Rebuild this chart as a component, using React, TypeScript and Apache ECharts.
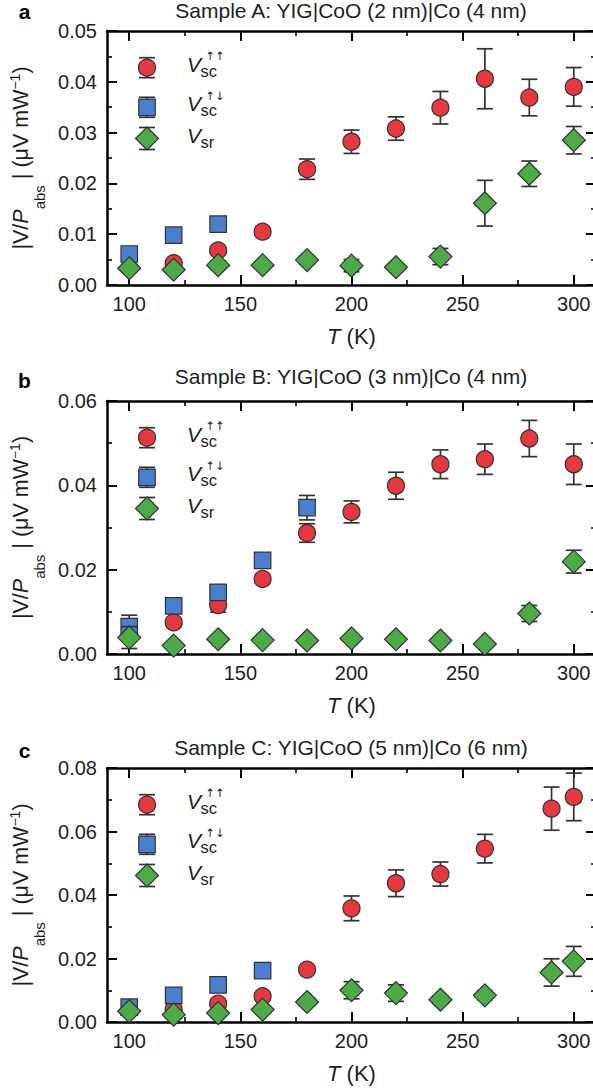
import React, { useEffect, useRef } from "react";
import * as echarts from "echarts";

const FONT = '"Liberation Sans", Arial, Helvetica, sans-serif';
const ARROW_FONT = '"DejaVu Sans", "Liberation Sans", sans-serif';
const INK = "#1e1e1e";
const EDGE = "#333333";
const RED = "#e8373f";
const BLUE = "#4a7fcf";
const GREEN = "#4caa47";

// ---- temperatures (K) ----
const tempsAB = [100, 120, 140, 160, 180, 200, 220, 240, 260, 280, 300];
const tempsC = [100, 120, 140, 160, 180, 200, 220, 240, 260, 290, 300];

// ---- tick labels ----
const xTickLabels = [100, 150, 200, 250, 300];
const xMinorTicks = [125, 175, 225, 275];

// ---- Sample A ----
const upupA = [null, 0.0043, 0.0068, 0.0105, 0.0228, 0.0282, 0.0308, 0.0349, 0.0406, 0.0369, 0.039];
const upupErrA = [null, 0.0005, 0.0006, 0.0006, 0.002, 0.0023, 0.0023, 0.0032, 0.0059, 0.0036, 0.0038];
const updnA = [0.0061, 0.0098, 0.012, null, null, null, null, null, null, null, null];
const updnErrA = [0.0005, 0.0005, 0.0006, null, null, null, null, null, null, null, null];
const srA = [0.0033, 0.003, 0.0039, 0.0039, 0.0049, 0.0038, 0.0035, 0.0056, 0.0161, 0.0219, 0.0285];
const srErrA = [0.0008, 0.0005, 0.0008, 0.0006, 0.0008, 0.0012, 0.0006, 0.0016, 0.0045, 0.0025, 0.0027];

// ---- Sample B ----
const upupB = [null, 0.0075, 0.0116, 0.0178, 0.0287, 0.0337, 0.0399, 0.045, 0.0462, 0.0511, 0.045];
const upupErrB = [null, 0.0006, 0.0017, 0.0008, 0.0022, 0.0026, 0.0032, 0.0034, 0.0036, 0.0043, 0.0048];
const updnB = [0.0065, 0.0114, 0.0146, 0.0222, 0.0347, null, null, null, null, null, null];
const updnErrB = [0.0027, 0.0008, 0.001, 0.001, 0.0029, null, null, null, null, null, null];
const srB = [0.0039, 0.002, 0.0035, 0.0033, 0.0032, 0.0037, 0.0035, 0.0032, 0.0024, 0.0096, 0.0219];
const srErrB = [0.0026, 0.0006, 0.0008, 0.0006, 0.0006, 0.0008, 0.0006, 0.0006, 0.0006, 0.0019, 0.0027];

// ---- Sample C ----
const upupC = [null, 0.004, 0.0058, 0.0081, 0.0165, 0.0358, 0.0437, 0.0466, 0.0546, 0.0672, 0.0709];
const upupErrC = [null, 0.0008, 0.001, 0.001, 0.001, 0.0039, 0.0042, 0.0038, 0.0045, 0.0068, 0.0075];
const updnC = [0.0047, 0.0084, 0.0117, 0.0162, null, null, null, null, null, null, null];
const updnErrC = [0.0008, 0.001, 0.001, 0.001, null, null, null, null, null, null, null];
const srC = [0.0034, 0.0023, 0.0028, 0.0039, 0.0063, 0.01, 0.0091, 0.007, 0.0084, 0.0156, 0.0191];
const srErrC = [0.001, 0.001, 0.001, 0.001, 0.0012, 0.0027, 0.0026, 0.0012, 0.0014, 0.0043, 0.0047];

const panels = [
  {
    letter: "a", title: "Sample A: YIG|CoO (2 nm)|Co (4 nm)",
    top: 31, height: 254, titleY: 10, letterY: 11.5,
    yMax: 0.05, yStep: 0.01, temps: tempsAB,
    upup: upupA, upupErr: upupErrA, updn: updnA, updnErr: updnErrA, sr: srA, srErr: srErrA,
  },
  {
    letter: "b", title: "Sample B: YIG|CoO (3 nm)|Co (4 nm)",
    top: 401, height: 253, titleY: 376.7, letterY: 380,
    yMax: 0.06, yStep: 0.02, temps: tempsAB,
    upup: upupB, upupErr: upupErrB, updn: updnB, updnErr: updnErrB, sr: srB, srErr: srErrB,
  },
  {
    letter: "c", title: "Sample C: YIG|CoO (5 nm)|Co (6 nm)",
    top: 768, height: 254, titleY: 747, letterY: 750,
    yMax: 0.08, yStep: 0.02, temps: tempsC,
    upup: upupC, upupErr: upupErrC, updn: updnC, updnErr: updnErrC, sr: srC, srErr: srErrC,
  },
];

function triples(xs: number[], ys: (number | null)[], es: (number | null)[]) {
  const out: number[][] = [];
  xs.forEach((x, i) => {
    if (ys[i] != null) out.push([x, ys[i] as number, (es[i] ?? 0) as number]);
  });
  return out;
}

const CAP = 8;
const ERR_STYLE = { stroke: EDGE, lineWidth: 1.7 };

function errRenderItem(params: any, api: any) {
  const x = api.value(0);
  const y = api.value(1);
  const e = api.value(2);
  const t = api.coord([x, y + e]);
  const b = api.coord([x, y - e]);
  return {
    type: "group",
    children: [
      { type: "line", shape: { x1: t[0], y1: t[1], x2: b[0], y2: b[1] }, style: ERR_STYLE },
      { type: "line", shape: { x1: t[0] - CAP, y1: t[1], x2: t[0] + CAP, y2: t[1] }, style: ERR_STYLE },
      { type: "line", shape: { x1: b[0] - CAP, y1: b[1], x2: b[0] + CAP, y2: b[1] }, style: ERR_STYLE },
    ],
  };
}

const richX = {
  n: { fontSize: 22, fontFamily: FONT, color: INK, verticalAlign: "middle" },
  i: { fontSize: 22, fontFamily: FONT, color: INK, fontStyle: "italic", verticalAlign: "middle" },
};

const richY = {
  n: { fontSize: 21.5, fontFamily: FONT, color: INK, verticalAlign: "middle" },
  i: { fontSize: 21.5, fontFamily: FONT, color: INK, fontStyle: "italic", verticalAlign: "middle" },
  sub: { fontSize: 15, fontFamily: FONT, color: INK, verticalAlign: "middle", padding: [38, 0, 0, 0] },
  sup: { fontSize: 14, fontFamily: FONT, color: INK, verticalAlign: "middle", padding: [0, 0, 12, 0] },
};

function buildOption() {
  const grid: any[] = [];
  const xAxis: any[] = [];
  const yAxis: any[] = [];
  const series: any[] = [];
  const graphic: any[] = [];

  const spine = { color: "#000", width: 2.5 };
  const majorTickStyle = { color: "#000", width: 2 };
  const minorTickStyle = { color: "#000", width: 1.6 };
  const tickFont = 20;

  panels.forEach((p, i) => {
    grid.push({ left: 107, right: -3, top: p.top, height: p.height, containLabel: false, outerBoundsMode: "none" });

    const baseX = { type: "value", gridIndex: i, min: 90, max: 310, splitLine: { show: false } };
    xAxis.push({
      ...baseX, position: "bottom",
      axisLine: { show: true, onZero: false, lineStyle: spine },
      axisTick: { show: true, inside: true, length: 10, customValues: xTickLabels, lineStyle: majorTickStyle },
      axisLabel: { show: true, customValues: xTickLabels, margin: 9, fontSize: tickFont, color: INK, fontFamily: FONT },
      name: "{i|T}{n| (K)}", nameLocation: "middle", nameGap: 40,
      nameTextStyle: { rich: richX },
    });
    xAxis.push({
      ...baseX, position: "bottom",
      axisLine: { show: false, onZero: false },
      axisTick: { show: true, inside: true, length: 5, customValues: xMinorTicks, lineStyle: minorTickStyle },
      axisLabel: { show: false },
    });
    xAxis.push({
      ...baseX, position: "top",
      axisLine: { show: true, onZero: false, lineStyle: spine },
      axisTick: { show: true, inside: true, length: 10, customValues: xTickLabels, lineStyle: majorTickStyle },
      axisLabel: { show: false },
    });
    xAxis.push({
      ...baseX, position: "top",
      axisLine: { show: false, onZero: false },
      axisTick: { show: true, inside: true, length: 5, customValues: xMinorTicks, lineStyle: minorTickStyle },
      axisLabel: { show: false },
    });

    const baseY = {
      type: "value", gridIndex: i, min: 0, max: p.yMax, interval: p.yStep,
      splitLine: { show: false }, minorSplitLine: { show: false },
    };
    yAxis.push({
      ...baseY, position: "left",
      axisLine: { show: true, onZero: false, lineStyle: spine },
      axisTick: { show: true, inside: true, length: 10, lineStyle: majorTickStyle },
      minorTick: { show: true, splitNumber: 2, length: 5, lineStyle: minorTickStyle },
      axisLabel: {
        show: true, margin: 10, fontSize: tickFont, color: INK, fontFamily: FONT,
        formatter: (v: number) => v.toFixed(2),
      },
      name: "{n||V/}{i|P}{sub|abs}{n| | (μV mW}{sup|−1}{n|)}",
      nameLocation: "middle", nameGap: 52, nameRotate: 90,
      nameTextStyle: { rich: richY },
    });
    yAxis.push({
      ...baseY, position: "right",
      axisLine: { show: true, onZero: false, lineStyle: spine },
      axisTick: { show: true, inside: true, length: 10, lineStyle: majorTickStyle },
      minorTick: { show: true, splitNumber: 2, length: 5, lineStyle: minorTickStyle },
      axisLabel: { show: false },
    });

    const xi = 4 * i;
    const yi = 2 * i;
    const sets = [
      { data: triples(p.temps, p.upup, p.upupErr), symbol: "circle", size: 17, color: RED },
      { data: triples(p.temps, p.updn, p.updnErr), symbol: "rect", size: 16.5, color: BLUE },
      { data: triples(p.temps, p.sr, p.srErr), symbol: "diamond", size: 23, color: GREEN },
    ];
    sets.forEach((s, k) => {
      series.push({
        type: "custom", xAxisIndex: xi, yAxisIndex: yi, silent: true, z: 2 + 2 * k,
        encode: { x: 0, y: 1 }, data: s.data, renderItem: errRenderItem,
      });
      series.push({
        type: "scatter", xAxisIndex: xi, yAxisIndex: yi, silent: true, z: 3 + 2 * k,
        symbol: s.symbol, symbolSize: s.size,
        data: s.data.map((d) => [d[0], d[1]]),
        itemStyle: { color: s.color, borderColor: EDGE, borderWidth: 1.2, opacity: 1 },
      });
    });

    // title and panel letter
    graphic.push({
      type: "text", x: 351, y: p.titleY, silent: true,
      style: { text: p.title, fontSize: 21, fontFamily: FONT, fill: INK, align: "center", verticalAlign: "middle" },
    });
    graphic.push({
      type: "text", x: 24.5, y: p.letterY, silent: true,
      style: { text: p.letter, fontSize: 21, fontWeight: "bold", fontFamily: FONT, fill: "#000", align: "center", verticalAlign: "middle" },
    });

    // legend
    const lx = 147;
    const rows = [p.top + 36.7, p.top + 76.3, p.top + 107.5];
    const errH = [10, 10, 11];
    rows.forEach((ry, k) => {
      const eh = errH[k];
      graphic.push({ type: "line", silent: true, shape: { x1: lx, y1: ry - eh, x2: lx, y2: ry + eh }, style: ERR_STYLE, z: 10 });
      graphic.push({ type: "line", silent: true, shape: { x1: lx - CAP, y1: ry - eh, x2: lx + CAP, y2: ry - eh }, style: ERR_STYLE, z: 10 });
      graphic.push({ type: "line", silent: true, shape: { x1: lx - CAP, y1: ry + eh, x2: lx + CAP, y2: ry + eh }, style: ERR_STYLE, z: 10 });
      const symStyle = { fill: sets[k].color, stroke: EDGE, lineWidth: 1.2 };
      if (k === 0) {
        graphic.push({ type: "circle", silent: true, shape: { cx: lx, cy: ry, r: 8.5 }, style: symStyle, z: 11 });
      } else if (k === 1) {
        graphic.push({ type: "rect", silent: true, shape: { x: lx - 8.25, y: ry - 8.25, width: 16.5, height: 16.5 }, style: symStyle, z: 11 });
      } else {
        graphic.push({
          type: "polygon", silent: true,
          shape: { points: [[lx, ry - 11.5], [lx + 11.5, ry], [lx, ry + 11.5], [lx - 11.5, ry]] },
          style: symStyle, z: 11,
        });
      }
      graphic.push({
        type: "text", x: 187, y: ry - 3.5, silent: true, z: 11,
        style: { text: "V", fontSize: 21, fontStyle: "italic", fontFamily: FONT, fill: INK, align: "left", verticalAlign: "middle", lineHeight: 16 },
      });
      graphic.push({
        type: "text", x: 200.5, y: ry + 3, silent: true, z: 11,
        style: { text: k === 2 ? "sr" : "sc", fontSize: 16.5, fontFamily: FONT, fill: INK, align: "left", verticalAlign: "middle", lineHeight: 11 },
      });
      if (k < 2) {
        graphic.push({
          type: "text", x: 205.5, y: ry - 11.5, silent: true, z: 11,
          style: { text: k === 0 ? "↑↑" : "↑↓", fontSize: 11.5, fontFamily: ARROW_FONT, fill: INK, align: "left", verticalAlign: "middle", lineHeight: 9 },
        });
      }
    });
  });

  return {
    animation: false,
    backgroundColor: "#ffffff",
    textStyle: { fontFamily: FONT },
    grid,
    xAxis,
    yAxis,
    series,
    graphic,
  };
}

export default function App() {
  const ref = useRef<HTMLDivElement>(null);
  useEffect(() => {
    if (!ref.current) return;
    const chart = echarts.init(ref.current, undefined, { renderer: "svg" });
    chart.setOption(buildOption() as any);
    return () => {
      chart.dispose();
    };
  }, []);
  return (
    <div
      ref={ref}
      style={{ position: "absolute", left: 0, top: 0, width: 593, height: 1092, background: "#fff", overflow: "hidden" }}
    />
  );
}
